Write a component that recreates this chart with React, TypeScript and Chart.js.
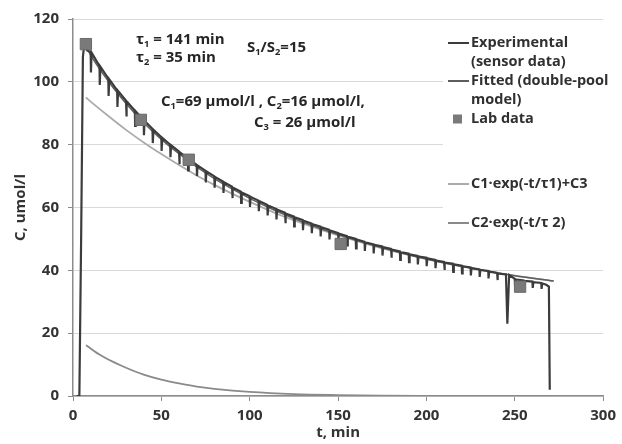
import React, { useEffect, useRef } from 'react';
import { Chart, registerables } from 'chart.js';

Chart.register(...registerables);

// ---- axis ticks ----
const xTickValues = [0, 50, 100, 150, 200, 250, 300];
const yTickValues = [0, 20, 40, 60, 80, 100, 120];

// ---- Experimental (sensor data): initial rise, sawtooth with dips, final drop ----
const expStartT = [2, 3.6, 4.6, 5.6, 6.4, 8];
const expStartC = [0, 0, 50, 108, 112, 110];
const spikeT = [10, 15, 20, 25, 30, 35, 40, 45, 50, 55, 60, 65, 70, 75, 80, 85, 90, 95, 100, 105, 110, 115, 120, 125, 130, 135, 140, 145, 150, 155, 160, 165, 170, 175, 180, 185, 190, 195, 200, 205, 210, 215, 220, 225, 230, 235, 240, 245, 250, 255, 260, 265];
const spikeTop = [109.5, 105, 101, 97.3, 94, 90.8, 87.8, 85, 82.4, 80, 77.8, 75.6, 73.6, 71.7, 69.9, 68.2, 66.6, 65, 63.6, 62.2, 60.8, 59.5, 58.3, 57.1, 56, 54.9, 53.9, 52.9, 51.9, 50.9, 50, 49.1, 48.3, 47.6, 46.8, 46, 45.3, 44.6, 44, 43.3, 42.7, 42.1, 41.5, 40.9, 40.3, 39.8, 39.2, 38.7, 37.3, 36.8, 36.4, 36.0];
const spikeDip = [103, 99, 95.5, 92, 89, 86, 83, 80.5, 78, 76, 73.8, 71.8, 70, 68, 66.3, 64.6, 63, 61.5, 60.2, 58.8, 57.5, 56.2, 55, 54, 52.8, 51.8, 50.8, 49.8, 48.8, 47.9, 47, 46.2, 45.4, 44.7, 44, 43.3, 42.6, 41.9, 41.3, 40.7, 40.1, 39.5, 39, 38.4, 37.9, 37.4, 36.9, 23, 35.2, 34.8, 34.4, 34.1];
const expEndT = [267.8, 269.3, 269.8];
const expEndC = [35.4, 34.8, 2];

// ---- Fitted (double-pool model) ----
const fitT = [7.3, 10, 15, 20, 25, 30, 40, 50, 60, 70, 80, 90, 100, 115, 130, 150, 175, 200, 225, 250, 272];
const fitC = [111.2, 108.5, 104.1, 100.2, 96.5, 93.1, 87.0, 81.7, 77.1, 72.9, 69.2, 65.9, 62.9, 58.9, 55.4, 51.4, 47.2, 43.6, 40.7, 38.3, 36.6];

// ---- C1·exp(-t/τ1)+C3 ----
const c1T = [7.3, 10, 20, 30, 40, 50, 60, 70, 80, 90, 100, 115, 130, 150, 175, 200, 225, 250, 272];
const c1C = [95, 93.7, 89.1, 84.7, 80.7, 77.0, 73.5, 70.2, 67.2, 64.4, 61.8, 58.1, 54.9, 51.1, 47.0, 43.6, 40.7, 38.3, 36.6];

// ---- C2·exp(-t/τ2) ----
const c2T = [7.3, 10, 15, 20, 30, 40, 50, 60, 70, 80, 100, 125, 150, 175, 200, 240, 272];
const c2C = [16.2, 15.1, 13.2, 11.6, 9.0, 6.8, 5.2, 4.0, 3.0, 2.3, 1.3, 0.6, 0.3, 0.13, 0.06, 0.02, 0];

// ---- Lab data ----
const labT = [7.3, 38.4, 65.5, 151.5, 253];
const labC = [112, 87.9, 75.2, 48.4, 34.8];

// ---- Text ----
const FONT = '"Open Sans", "DejaVu Sans", sans-serif';
const xTitle = 't, min';
const yTitle = 'C, umol/l';
type Seg = [string, boolean];
const annotations: { segs: Seg[]; x: number; y: number }[] = [
  { segs: [['τ', false], ['1', true], [' = 141 min', false]], x: 136, y: 40 },
  { segs: [['τ', false], ['2', true], [' = 35 min', false]], x: 136, y: 58 },
  { segs: [['S', false], ['1', true], ['/S', false], ['2', true], ['=15', false]], x: 247, y: 48 },
  { segs: [['C', false], ['1', true], ['=69 μmol/l , C', false], ['2', true], ['=16 μmol/l,', false]], x: 161, y: 102 },
  { segs: [['C', false], ['3', true], [' = 26 μmol/l', false]], x: 254, y: 123 },
];
const legendItems: { kind: 'line' | 'rect' | 'none'; color: string; segs: Seg[]; y: number }[] = [
  { kind: 'line', color: '#3c3c3c', segs: [['Experimental', false]], y: 43 },
  { kind: 'none', color: '', segs: [['(sensor data)', false]], y: 62 },
  { kind: 'line', color: '#5e5e5e', segs: [['Fitted (double-pool', false]], y: 81 },
  { kind: 'none', color: '', segs: [['model)', false]], y: 100 },
  { kind: 'rect', color: '#7a7a7a', segs: [['Lab data', false]], y: 119 },
  { kind: 'line', color: '#ababab', segs: [['C1·exp(-t/τ1)+C3', false]], y: 184 },
  { kind: 'line', color: '#8a8a8a', segs: [['C2·exp(-t/τ 2)', false]], y: 223 },
];

function drawRich(ctx: CanvasRenderingContext2D, segs: Seg[], x: number, y: number, size: number) {
  let cx = x;
  for (const [t, sub] of segs) {
    const s = sub ? size * 0.62 : size;
    ctx.font = `bold ${s}px ${FONT}`;
    ctx.fillText(t, cx, sub ? y + size * 0.28 : y);
    cx += ctx.measureText(t).width;
  }
}

function buildExperimental() {
  const pts: { x: number; y: number }[] = [];
  expStartT.forEach((t, i) => pts.push({ x: t, y: expStartC[i] }));
  spikeT.forEach((t, i) => {
    const big = spikeTop[i] - spikeDip[i] > 8;
    const w = big ? 0.8 : 0.15;
    pts.push({ x: t, y: spikeTop[i] });
    pts.push({ x: t + w, y: spikeDip[i] });
    pts.push({ x: t + 2 * w + 0.2, y: spikeTop[i] - 0.2 });
  });
  expEndT.forEach((t, i) => pts.push({ x: t, y: expEndC[i] }));
  return pts;
}

const zip = (xs: number[], ys: number[]) => xs.map((x, i) => ({ x, y: ys[i] }));

const overlayPlugin = {
  id: 'overlay',
  beforeDatasetsDraw(chart: any) {
    const ctx = chart.ctx as CanvasRenderingContext2D;
    ctx.save();
    ctx.fillStyle = '#ffffff';
    ctx.fillRect(443, 24, 170, 216);
    ctx.restore();
  },
  afterDraw(chart: any) {
    const ctx = chart.ctx as CanvasRenderingContext2D;
    ctx.save();
    ctx.textBaseline = 'middle';
    ctx.textAlign = 'left';
    ctx.fillStyle = '#262626';
    annotations.forEach((a) => drawRich(ctx, a.segs, a.x, a.y, 15));
    legendItems.forEach((it) => {
      if (it.kind === 'line') {
        ctx.strokeStyle = it.color;
        ctx.lineWidth = 2;
        ctx.beginPath();
        ctx.moveTo(448, it.y);
        ctx.lineTo(469, it.y);
        ctx.stroke();
      } else if (it.kind === 'rect') {
        ctx.fillStyle = it.color;
        ctx.fillRect(453, it.y - 4.5, 9, 9);
      }
      ctx.fillStyle = '#303030';
      drawRich(ctx, it.segs, 471, it.y, 14.5);
    });
    ctx.restore();
  },
};

export default function App() {
  const ref = useRef<HTMLCanvasElement | null>(null);
  useEffect(() => {
    if (!ref.current) return;
    const chart = new Chart(ref.current, {
      type: 'line',
      data: {
        datasets: [
          {
            label: 'Lab data',
            data: zip(labT, labC),
            showLine: false,
            pointStyle: 'rect',
            pointRadius: 8,
            backgroundColor: '#7a7a7a',
            borderColor: '#6a6a6a',
            borderWidth: 1,
            order: 0,
          },
          {
            label: 'Experimental (sensor data)',
            data: buildExperimental(),
            borderColor: '#3c3c3c',
            borderWidth: 2.2,
            pointRadius: 0,
            tension: 0,
            order: 1,
          },
          {
            label: 'Fitted (double-pool model)',
            data: zip(fitT, fitC),
            borderColor: '#5e5e5e',
            borderWidth: 1.5,
            pointRadius: 0,
            cubicInterpolationMode: 'monotone',
            order: 2,
          },
          {
            label: 'C1·exp(-t/τ1)+C3',
            data: zip(c1T, c1C),
            borderColor: '#ababab',
            borderWidth: 1.8,
            pointRadius: 0,
            cubicInterpolationMode: 'monotone',
            order: 3,
          },
          {
            label: 'C2·exp(-t/τ 2)',
            data: zip(c2T, c2C),
            borderColor: '#8a8a8a',
            borderWidth: 1.8,
            pointRadius: 0,
            cubicInterpolationMode: 'monotone',
            order: 4,
          },
        ],
      },
      options: {
        animation: false,
        responsive: false,
        devicePixelRatio: 1,
        layout: { padding: { top: 19, right: 13, left: 0, bottom: 0 } },
        plugins: { legend: { display: false }, tooltip: { enabled: false } },
        scales: {
          x: {
            type: 'linear',
            min: 0,
            max: 300,
            afterBuildTicks: (s: any) => { s.ticks = xTickValues.map((v) => ({ value: v })); },
            afterFit: (s: any) => { s.height = 48; },
            grid: { drawOnChartArea: false, drawTicks: true, tickLength: 5, tickColor: '#8c8c8c' },
            border: { color: '#8c8c8c', width: 1.5 },
            ticks: { color: '#333333', font: { family: FONT, size: 15, weight: 'bold' }, padding: 6, maxRotation: 0, autoSkip: false },
            title: { display: true, text: xTitle, color: '#333333', font: { family: FONT, size: 15, weight: 'bold' }, padding: { top: 0, bottom: 2 } },
          },
          y: {
            type: 'linear',
            min: 0,
            max: 120,
            afterBuildTicks: (s: any) => { s.ticks = yTickValues.map((v) => ({ value: v })); },
            afterFit: (s: any) => { s.width = 73; },
            grid: { color: '#d9d9d9', lineWidth: 1, drawTicks: true, tickLength: 5, tickColor: '#8c8c8c' },
            border: { color: '#8c8c8c', width: 1.5 },
            ticks: { color: '#333333', font: { family: FONT, size: 15, weight: 'bold' }, padding: 9, autoSkip: false },
            title: { display: true, text: yTitle, color: '#333333', font: { family: FONT, size: 15, weight: 'bold' }, padding: { top: 12, bottom: 0 } },
          },
        },
      },
      plugins: [overlayPlugin],
    } as any);
    return () => chart.destroy();
  }, []);
  return (
    <div style={{ position: 'absolute', left: 0, top: 0, width: 622, height: 444, background: '#fff' }}>
      <canvas ref={ref} width={622} height={444} />
    </div>
  );
}
